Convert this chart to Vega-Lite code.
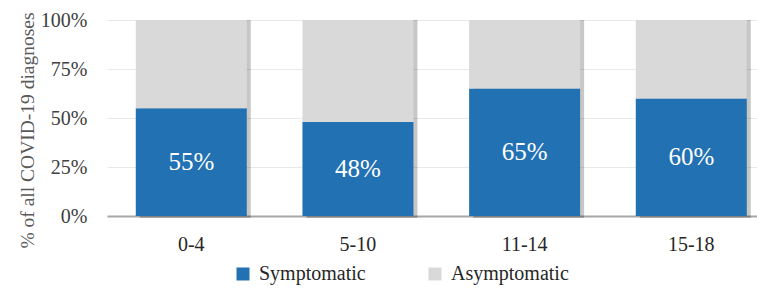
{
  "$schema": "https://vega.github.io/schema/vega-lite/v6.json",
  "width": 650,
  "height": 196,
  "autosize": {"type": "none"},
  "padding": {"left": 107, "top": 20, "right": 0, "bottom": 74},
  "background": "white",
  "config": {
    "view": {"stroke": null},
    "font": "Liberation Serif",
    "axis": {"labelFont": "Liberation Serif", "titleFont": "Liberation Serif"},
    "legend": {"labelFont": "Liberation Serif", "titleFont": "Liberation Serif"},
    "text": {"font": "Liberation Serif"}
  },
  "data": {
    "values": [
      {"age": "0-4", "status": "Symptomatic", "pct": 0.55},
      {"age": "0-4", "status": "Asymptomatic", "pct": 0.45},
      {"age": "5-10", "status": "Symptomatic", "pct": 0.48},
      {"age": "5-10", "status": "Asymptomatic", "pct": 0.52},
      {"age": "11-14", "status": "Symptomatic", "pct": 0.65},
      {"age": "11-14", "status": "Asymptomatic", "pct": 0.35},
      {"age": "15-18", "status": "Symptomatic", "pct": 0.60},
      {"age": "15-18", "status": "Asymptomatic", "pct": 0.40}
    ]
  },
  "encoding": {
    "x": {
      "field": "age",
      "type": "nominal",
      "sort": ["0-4", "5-10", "11-14", "15-18"],
      "scale": {"paddingInner": 0.334, "paddingOuter": 0.117, "align": 0.738},
      "axis": {
        "title": null,
        "labelAngle": 0,
        "labelFont": "Liberation Serif",
        "labelFontSize": 20,
        "labelColor": "#262626",
        "labelPadding": 18,
        "ticks": false,
        "domainColor": "#a6a6a6",
        "domainWidth": 2,
        "grid": false
      }
    }
  },
  "layer": [
    {
      "transform": [{"filter": "datum.status === 'Symptomatic'"}],
      "mark": {"type": "bar", "fill": "#000000", "opacity": 0.22, "xOffset": 4, "yOffset": 2},
      "encoding": {
        "y": {"datum": 0, "type": "quantitative"},
        "y2": {"datum": 1}
      }
    },
    {
      "mark": {"type": "bar"},
      "encoding": {
        "y": {
          "field": "pct",
          "type": "quantitative",
          "stack": "zero",
          "scale": {"domain": [0, 1]},
          "axis": {
            "title": "% of  all COVID-19 diagnoses",
            "format": ".0%",
            "values": [0, 0.25, 0.5, 0.75, 1],
            "grid": true,
            "gridColor": "#e9e9e9",
            "domain": false,
            "ticks": false,
            "labelPadding": 20,
            "labelFont": "Liberation Serif",
            "labelFontSize": 20,
            "labelColor": "#404040",
            "titleFont": "Liberation Serif",
            "titleFontSize": 19.5,
            "titleFontWeight": "normal",
            "titleColor": "#595959",
            "titleAngle": 270,
            "titleX": -80,
            "titleY": 110,
            "titleAlign": "center",
            "titleBaseline": "middle"
          }
        },
        "color": {
          "field": "status",
          "type": "nominal",
          "sort": ["Symptomatic", "Asymptomatic"],
          "scale": {"domain": ["Symptomatic", "Asymptomatic"], "range": ["#2271b3", "#d9d9d9"]},
          "legend": {
            "title": null,
            "orient": "none",
            "legendX": 126,
            "legendY": 244,
            "direction": "horizontal",
            "symbolType": "square",
            "symbolSize": 169,
            "symbolStrokeWidth": 0,
            "labelFont": "Liberation Serif",
            "labelFontSize": 20,
            "labelColor": "#262626",
            "labelOffset": 6,
            "columnPadding": 59
          }
        }
      }
    },
    {
      "transform": [
        {"filter": "datum.status === 'Symptomatic'"},
        {"calculate": "datum.pct / 2", "as": "mid"}
      ],
      "mark": {"type": "text", "color": "white", "font": "Liberation Serif", "fontSize": 25, "baseline": "middle"},
      "encoding": {
        "y": {"field": "mid", "type": "quantitative"},
        "text": {"field": "pct", "type": "quantitative", "format": ".0%"}
      }
    }
  ]
}
